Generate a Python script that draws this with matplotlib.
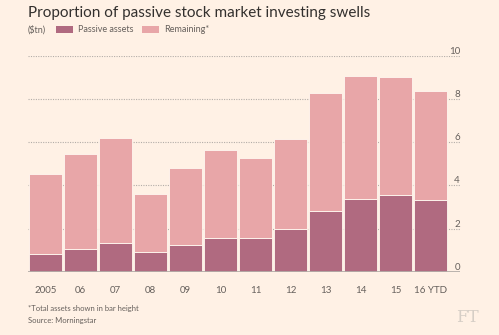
import matplotlib
matplotlib.use("Agg")
import matplotlib.pyplot as plt
from matplotlib.patches import Patch

years = ["2005", "06", "07", "08", "09", "10", "11", "12", "13", "14", "15", "16 YTD"]
total_assets = [4.55, 5.47, 6.21, 3.61, 4.81, 5.62, 5.29, 6.14, 8.26, 9.06, 9.00, 8.37]
passive_assets = [0.82, 1.06, 1.32, 0.91, 1.24, 1.56, 1.58, 2.00, 2.84, 3.36, 3.55, 3.35]
remaining = [t - p for t, p in zip(total_assets, passive_assets)]
y_ticks = [0, 2, 4, 6, 8, 10]

BG = "#FFF1E5"
C_PASSIVE = "#B06A80"
C_REMAIN = "#E8A6A8"
TXT = "#66605C"

plt.rcParams['font.family'] = ['Lato', 'DejaVu Sans']

W, H = 499, 335
fig = plt.figure(figsize=(W / 100, H / 100), dpi=100, facecolor=BG)
ax = fig.add_axes([28 / W, (H - 272) / H, 432 / W, (272 - 55.7) / H])
ax.set_facecolor(BG)

x = list(range(len(years)))
ax.bar(x, passive_assets, width=0.95, color=C_PASSIVE, edgecolor="#FFF8F0", linewidth=0.6, zorder=3)
ax.bar(x, remaining, bottom=passive_assets, width=0.95, color=C_REMAIN, edgecolor="#FFF8F0", linewidth=0.6, zorder=3)

ax.set_xlim(-0.5, 11.84)
ax.set_ylim(0, 10)
for s in ax.spines.values():
    s.set_visible(False)
ax.axhline(0, color="#B3ADA8", lw=2, zorder=4)
for t in y_ticks[1:]:
    ax.axhline(t, color="#B3ADA8", lw=0.8, ls=(0, (1, 1.2)), zorder=1)
ax.set_yticks([])
ax.set_xticks(x)
ax.set_xticklabels(years, fontsize=7, color=TXT)
ax.tick_params(axis='x', length=0, pad=10)
for t in y_ticks:
    ax.text(1.0, t, str(t), transform=ax.get_yaxis_transform(), ha='right', va='bottom',
            fontsize=7, color=TXT, clip_on=False)

fig.text(28 / W, 1 - 13 / H, "Proportion of passive stock market investing swells",
         fontsize=11, color="#33302E", va='center', ha='left')
fig.text(28 / W, 1 - 30 / H, "($tn)", fontsize=6.5, color=TXT, va='center', ha='left')
handles = [Patch(facecolor=C_PASSIVE), Patch(facecolor=C_REMAIN)]
fig.legend(handles, ["Passive assets", "Remaining*"], loc='center left',
           bbox_to_anchor=(56 / W, 1 - 30 / H), ncol=2, frameon=False, fontsize=6.5,
           labelcolor=TXT, handlelength=1.9, handleheight=0.9, handletextpad=0.55,
           columnspacing=0.9, borderpad=0, borderaxespad=0)

fig.text(28 / W, 1 - 308 / H, "*Total assets shown in bar height", fontsize=5.5, color=TXT, va='center')
fig.text(28 / W, 1 - 320 / H, "Source: Morningstar", fontsize=5.5, color=TXT, va='center')
fig.text(479 / W, 1 - 317 / H, "FT", fontsize=12, color="#D6CEC6", va='center', ha='right',
         family=['DejaVu Serif'])

fig.savefig("out.png", dpi=100, facecolor=BG)
